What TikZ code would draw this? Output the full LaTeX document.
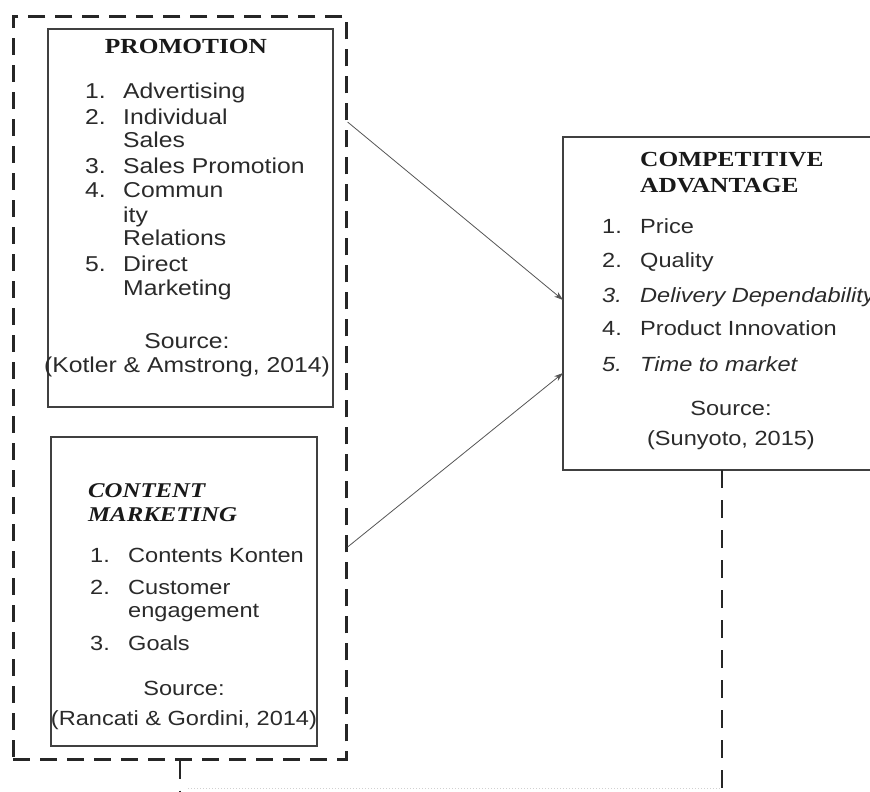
\documentclass[tikz,border=0pt]{standalone}
\usepackage{fontspec}
\setmainfont{Liberation Sans}[FakeStretch=1.15]
\newfontfamily\ttlfont{Liberation Serif}[FakeStretch=1.18]
\usetikzlibrary{arrows.meta}
\definecolor{boxgray}{HTML}{404040}
\definecolor{txtgray}{HTML}{2A2A2A}
\definecolor{arrgray}{HTML}{555555}
\begin{document}
\begin{tikzpicture}[x=1pt,y=-1pt,
  box/.style={draw=boxgray, line width=2pt, inner sep=0pt, anchor=north west},
  grpbox/.style={draw=black!85, line width=2.6pt, dash pattern=on 17pt off 10pt, inner sep=0pt, anchor=north west},
  dline/.style={draw=black!85, line width=2.6pt, dash pattern=on 18pt off 12pt},
  conn/.style={draw=arrgray, line width=0.8pt, -{Stealth[length=9pt,width=6pt]}},
  ptxt/.style={inner sep=0pt, anchor=base west, text=txtgray, font=\fontsize{21.5}{24}\selectfont},
  ctxt/.style={inner sep=0pt, anchor=base west, text=txtgray, font=\fontsize{20.5}{24}\selectfont},
  psrc/.style={inner sep=0pt, anchor=base, text=txtgray, font=\fontsize{21.5}{24}\selectfont},
  csrc/.style={inner sep=0pt, anchor=base, text=txtgray, font=\fontsize{20.5}{24}\selectfont},
  ttl/.style={inner sep=0pt, text=black!90, font=\ttlfont\bfseries\fontsize{21.5}{24}\selectfont},
]
\useasboundingbox (0,0) rectangle (870,792);

% group (dashed) box
\node[grpbox, minimum width=333pt, minimum height=743pt] (grp) at (12,15) {};

% PROMOTION box
\node[box, minimum width=285pt, minimum height=378pt] (promo) at (47,28) {};
\node[ttl, anchor=base] (ptitle) at (186,54) {PROMOTION};
\node[ptxt] (pn1) at (85,98) {1.};
\node[ptxt] (pt1) at (123,98) {Advertising};
\node[ptxt] (pn2) at (85,124) {2.};
\node[ptxt] (pt2) at (123,124) {Individual};
\node[ptxt] (pt2b) at (123,147) {Sales};
\node[ptxt] (pn3) at (85,173) {3.};
\node[ptxt] (pt3) at (123,173) {Sales Promotion};
\node[ptxt] (pn4) at (85,197) {4.};
\node[ptxt] (pt4) at (123,197) {Commun};
\node[ptxt] (pt4b) at (123,222) {ity};
\node[ptxt] (pt4c) at (123,245) {Relations};
\node[ptxt] (pn5) at (85,271) {5.};
\node[ptxt] (pt5) at (123,271) {Direct};
\node[ptxt] (pt5b) at (123,295) {Marketing};
\node[psrc] (psrc1) at (187,348) {Source:};
\node[psrc] (psrc2) at (187,372) {(Kotler \& Amstrong, 2014)};

% CONTENT MARKETING box
\node[box, minimum width=266pt, minimum height=309pt] (content) at (50,436) {};
\node[ttl, anchor=base west, font=\ttlfont\bfseries\itshape\fontsize{21}{24}\selectfont] (ctitle1) at (88,497) {CONTENT};
\node[ttl, anchor=base west, font=\ttlfont\bfseries\itshape\fontsize{21}{24}\selectfont] (ctitle2) at (88,521) {MARKETING};
\node[ctxt] (cn1) at (90,562) {1.};
\node[ctxt] (ct1) at (128,562) {Contents Konten};
\node[ctxt] (cn2) at (90,594) {2.};
\node[ctxt] (ct2) at (128,594) {Customer};
\node[ctxt] (ct2b) at (128,617) {engagement};
\node[ctxt] (cn3) at (90,650) {3.};
\node[ctxt] (ct3) at (128,650) {Goals};
\node[csrc] (csrc1) at (184,695) {Source:};
\node[csrc] (csrc2) at (184,725) {(Rancati \& Gordini, 2014)};

% COMPETITIVE ADVANTAGE box (runs past the right edge)
\node[inner sep=0pt, anchor=north west, minimum width=307pt, minimum height=333pt] (ca) at (563,137) {};
\draw[boxgray, line width=2pt] (ca.north east) -- (ca.north west) -- (ca.south west) -- (ca.south east);
\node[ttl, anchor=base west] (atitle1) at (640,166) {COMPETITIVE};
\node[ttl, anchor=base west] (atitle2) at (640,192) {ADVANTAGE};
\node[ctxt] (an1) at (602,233) {1.};
\node[ctxt] (at1) at (640,233) {Price};
\node[ctxt] (an2) at (602,267) {2.};
\node[ctxt] (at2) at (640,267) {Quality};
\node[ctxt] (an3) at (602,302) {\itshape 3.};
\node[ctxt] (at3) at (640,302) {\itshape Delivery Dependability};
\node[ctxt] (an4) at (602,335) {4.};
\node[ctxt] (at4) at (640,335) {Product Innovation};
\node[ctxt] (an5) at (602,371) {\itshape 5.};
\node[ctxt] (at5) at (640,371) {\itshape Time to market};
\node[csrc] (asrc1) at (731,415) {Source:};
\node[csrc] (asrc2) at (731,445) {(Sunyoto, 2015)};

% connectors
\coordinate (s1) at (grp.east |- 0,122);
\coordinate (e1) at (ca.west |- 0,300);
\coordinate (s2) at (grp.east |- 0,547);
\coordinate (e2) at (ca.west |- 0,373);
\draw[conn] (s1) -- (e1);
\draw[conn] (s2) -- (e2);

% lines leaving at the bottom
\coordinate (gstub) at (180,792);
\coordinate (castub) at (722,792);
\coordinate (castart) at (ca.south west -| 722,0);
\draw[dline] (grp.south -| 180,0) -- (gstub);
\draw[dline] (castart) -- (castub);
\coordinate (fl1) at (188,788);
\coordinate (fl2) at (720,788);
\draw[black!18, line width=1pt, dotted] (fl1) -- (fl2);
\end{tikzpicture}
\end{document}
